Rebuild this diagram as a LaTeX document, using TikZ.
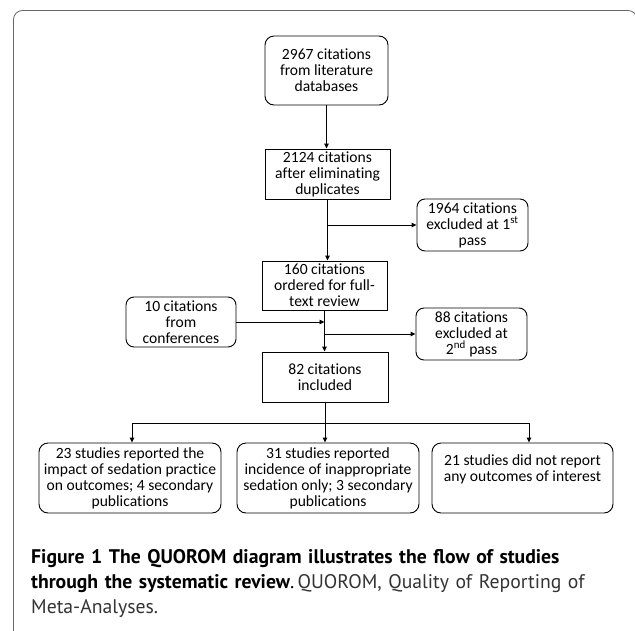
\documentclass[tikz,border=0pt]{standalone}
\usepackage{fontspec}
\setmainfont{Carlito}[Ligatures={NoCommon,NoContextual},Contextuals=NoAlternate,RawFeature=-liga]
\newfontfamily\capfont{PT Sans}
\usetikzlibrary{arrows.meta,calc}
\begin{document}
\begin{tikzpicture}[x=1pt,y=-1pt,
  every node/.style={font=\fontsize{15.6}{16}\selectfont, align=center, inner sep=0pt},
  sqbox/.style={draw, line width=0.9pt, rectangle},
  rbox/.style={draw, line width=0.9pt, rectangle, rounded corners=9pt},
  arr/.style={line width=0.9pt, -{Triangle[length=5pt,width=4.5pt]}},
  ln/.style={line width=0.9pt}]
\useasboundingbox (0,0) rectangle (635,630);
\draw[line width=0.8pt, black!60, rounded corners=9pt] (13.5,640) -- (13.5,10.5) -- (637,10.5) -- (637,640);

\node[rbox, minimum width=123pt, minimum height=69pt] (b1) at (326.5,70.5) {2967 citations\\from literature\\databases};
\node[sqbox, minimum width=125pt, minimum height=50pt] (b2) at (327.5,174) {2124 citations\\after eliminating\\duplicates};
\node[rbox, rounded corners=8pt, minimum width=111pt, minimum height=52pt] (ex1) at (472.5,225) {1964 citations\\excluded at 1\textsuperscript{st}\\pass};
\node[sqbox, minimum width=125pt, minimum height=49pt] (b3) at (324.5,285.5) {160 citations\\ordered for full-\\text review};
\node[rbox, rounded corners=8pt, minimum width=110pt, minimum height=50pt] (conf) at (181,322) {10 citations\\from\\conferences};
\node[rbox, rounded corners=8pt, minimum width=111pt, minimum height=52pt] (ex2) at (471.5,334) {88 citations\\excluded at\\2\textsuperscript{nd} pass};
\node[sqbox, minimum width=126pt, minimum height=50pt] (b4) at (325,377) {82 citations\\included};
\node[rbox, minimum width=182pt, minimum height=70pt] (sA) at (130,478) {23 studies reported the\\impact of sedation practice\\on outcomes; 4 secondary\\publications};
\node[rbox, minimum width=182pt, minimum height=70pt] (sB) at (328,478) {\raisebox{4pt}{\parbox{182pt}{\centering 31 studies reported\\incidence of inappropriate\\sedation only; 3 secondary\\publications}}};
\node[rbox, minimum width=181pt, minimum height=70pt] (sC) at (522.5,478) {21 studies did not report\\any outcomes of interest\\\strut};

\draw[arr] (b1.south) -- (b1.south |- b2.north);
\draw[arr] (b2.south) -- (b2.south |- b3.north);
\coordinate (j1) at (b2.south |- ex1.west);
\draw[arr] (j1) -- (ex1.west);
\draw[arr] (b3.south) -- (b3.south |- b4.north);
\draw[arr] (conf.east) -- (conf.east -| b3.south);
\coordinate (j2) at (b3.south |- ex2.west);
\draw[arr] (j2) -- (ex2.west);
\coordinate (hl) at (132,423);
\coordinate (hr) at (529,423);
\draw[arr] (b4.south) -- (b4.south |- sB.north);
\draw[ln] (hl) -- (hr);
\draw[arr] (hl) -- (hl |- sA.north);
\draw[arr] (hr) -- (hr |- sC.north);

\node[anchor=north west, align=left, text width=600pt, font=\capfont\fontsize{19.7}{25}\selectfont] (cap) at (31,549)
{\textbf{Figure 1 The QUOROM diagram illustrates the flow of studies}\\
\textbf{through the systematic review}.\,{\color{black!80}QUOROM, Quality of Reporting of}\\
{\color{black!80}Meta-Analyses.}};
\end{tikzpicture}
\end{document}
